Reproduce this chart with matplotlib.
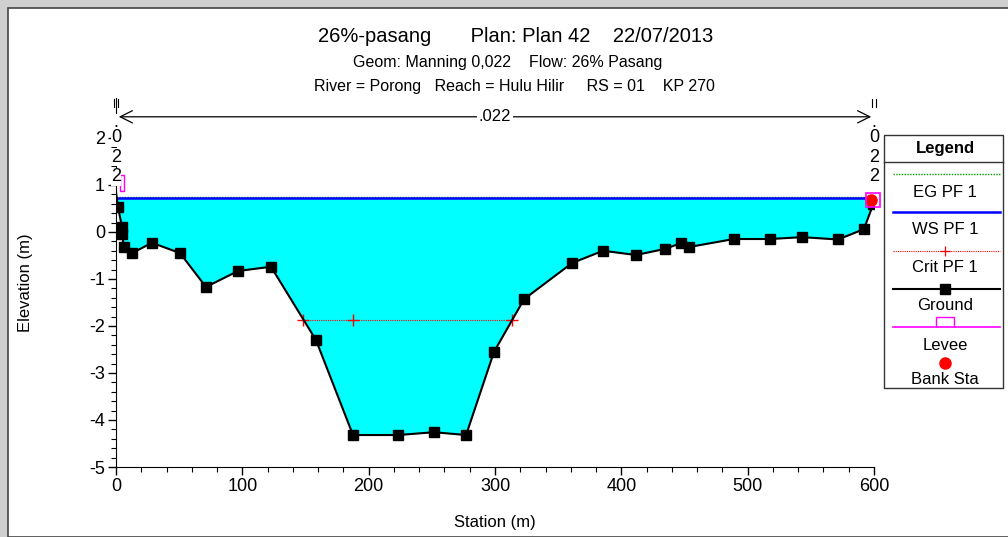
import numpy as np
import matplotlib
matplotlib.use("Agg")
import matplotlib.pyplot as plt
from matplotlib.patches import Rectangle
from matplotlib.lines import Line2D
from matplotlib.ticker import MultipleLocator, FixedLocator

plt.rcParams['font.family'] = ['Liberation Sans', 'DejaVu Sans']
plt.rcParams['axes.unicode_minus'] = False

# ground profile (station, elevation)
station = [0, 1.6, 4.7, 4.7, 6.3, 12.7, 28.5, 50.7, 71.2, 96.6, 122.7, 158.3,
           187.6, 223.3, 251.8, 277.1, 299.2, 323.0, 361.0, 385.6, 411.6,
           434.6, 447.0, 453.6, 489.0, 517.7, 543.0, 571.5, 592.0, 599.5]
ground = [0.85, 0.53, 0.11, -0.04, -0.32, -0.45, -0.23, -0.45, -1.17, -0.83,
          -0.74, -2.30, -4.32, -4.32, -4.26, -4.32, -2.55, -1.43, -0.66, -0.40,
          -0.49, -0.36, -0.24, -0.32, -0.15, -0.15, -0.11, -0.16, 0.06, 0.60]

ws_elev = 0.72
eg_elev = 0.75
crit_elev = -1.87
crit_sta = [148.0, 187.6, 313.5]
levee_sta = [4.5, 599.0]
levee_elev = [1.05, 0.69]
bank_sta = [598.0]
bank_elev = [0.69]

W, H = 1008, 537
fig = plt.figure(figsize=(W / 100, H / 100), dpi=100)
fig.patch.set_facecolor('#cfcfcf')

def fx(px):
    return px / W

def fy(py):
    return 1 - py / H

# white sheet with frame
fig.add_artist(Rectangle((fx(8), 0), 1.0, fy(8), transform=fig.transFigure,
                         facecolor='white', edgecolor='#444444', lw=1.2, zorder=0))

ax = fig.add_axes([fx(116), fy(467), fx(874) - fx(116), fy(98) - fy(467)])
ax.set_xlim(0, 600)
ax.set_ylim(-5, 2.85)
ax.patch.set_alpha(0)

st = np.array(station)
gr = np.array(ground)
xs = np.linspace(0, 600, 3000)
gi = np.interp(xs, st, gr)
ax.fill_between(xs, gi, ws_elev, where=gi < ws_elev, interpolate=True,
                color='#00ffff', lw=0, zorder=1)

ax.plot([0, 600], [eg_elev, eg_elev], color='#00a000', ls=(0, (1, 1)), lw=1, zorder=3)
ax.plot([0, 600], [ws_elev, ws_elev], color='#0000ff', lw=1.8, zorder=3)
ax.plot([crit_sta[0], crit_sta[-1]], [crit_elev, crit_elev], color='#ff0000',
        ls=(0, (1, 1)), lw=0.8, zorder=3)
ax.plot(crit_sta, [crit_elev] * len(crit_sta), ls='none', marker='+',
        color='#ff0000', ms=8, mew=1, zorder=4)
ax.plot(station, ground, color='black', lw=1.5, marker='s', ms=7, zorder=5,
        markevery=list(range(1, len(station))))

tall = [(-0.25, -1), (0.25, -1), (0.25, 1), (-0.25, 1), (-0.25, -1)]
ax.plot(levee_sta[:1], levee_elev[:1], ls='none', marker=tall, ms=11,
        mfc='none', mec='#ff00ff', mew=1, zorder=6, clip_on=False)
ax.plot(bank_sta, bank_elev, ls='none', marker='o', ms=8, color='#ff0000',
        zorder=6, clip_on=False)
ax.plot(levee_sta[1:], levee_elev[1:], ls='none', marker='s', ms=10,
        mfc='none', mec='#ff00ff', mew=1.2, zorder=7, clip_on=False)

# manning n marks
arrow_y = 2.45
ax.annotate('', xy=(0, arrow_y), xytext=(600, arrow_y),
            arrowprops=dict(arrowstyle='<->', color='black', lw=0.9,
                            mutation_scale=22))
ax.text(300, arrow_y, '.022', ha='center', va='center', fontsize=12,
        bbox=dict(facecolor='white', edgecolor='none', pad=1), zorder=8)
for sx in [0, 600]:
    for dx in [-1.2, 1.2]:
        ax.plot([sx + dx, sx + dx], [2.66, 2.82], color='black', lw=0.8,
                clip_on=False)
    for ch, cy in zip(['.', '0', '2', '2'], [2.33, 2.00, 1.59, 1.17]):
        ax.text(sx, cy, ch, ha='center', va='center', fontsize=13, zorder=8,
                bbox=dict(facecolor='white', edgecolor='none', pad=0.2))

ax.spines['top'].set_visible(False)
ax.spines['right'].set_visible(False)
ax.xaxis.set_major_locator(MultipleLocator(100))
ax.xaxis.set_minor_locator(MultipleLocator(20))
ax.set_yticks([-5, -4, -3, -2, -1, 0, 1, 2])
ax.yaxis.set_minor_locator(FixedLocator(np.round(np.arange(-5, 2.01, 0.2), 1)))
ax.tick_params(which='major', length=6, width=1, labelsize=13, pad=2)
ax.tick_params(which='minor', length=3.5, width=0.8)
ax.set_xlabel('Station (m)', fontsize=12, labelpad=14)
ax.set_ylabel('Elevation (m)', fontsize=12, labelpad=40)

fig.text(fx(516), fy(37), '26%-pasang       Plan: Plan 42    22/07/2013',
         ha='center', va='center', fontsize=14.5)
fig.text(fx(508), fy(62), 'Geom: Manning 0,022    Flow: 26% Pasang',
         ha='center', va='center', fontsize=11.5)
fig.text(fx(514), fy(87), 'River = Porong   Reach = Hulu Hilir     RS = 01    KP 270',
         ha='center', va='center', fontsize=11.5)

# legend box
lx0, lx1, ly0, ly1 = 884, 1003, 135, 388
fig.add_artist(Rectangle((fx(lx0), fy(ly1)), fx(lx1) - fx(lx0), fy(ly0) - fy(ly1),
                         transform=fig.transFigure, facecolor='white',
                         edgecolor='#333333', lw=1))
fig.add_artist(Line2D([fx(lx0), fx(lx1)], [fy(162), fy(162)], color='#333333', lw=1))
fig.text(fx(945), fy(149), 'Legend', ha='center', va='center', fontsize=12,
         fontweight='bold')

cx = 945
seg = [fx(893), fx(1000)]
fig.add_artist(Line2D(seg, [fy(174)] * 2, color='#00a000', ls=(0, (1, 1)), lw=1))
fig.text(fx(cx), fy(192), 'EG PF 1', ha='center', va='center', fontsize=12)
fig.add_artist(Line2D(seg, [fy(212)] * 2, color='#0000ff', lw=1.8))
fig.text(fx(cx), fy(230), 'WS PF 1', ha='center', va='center', fontsize=12)
fig.add_artist(Line2D(seg, [fy(251)] * 2, color='#ff0000', ls=(0, (1, 1)), lw=0.8))
fig.add_artist(Line2D([fx(cx)], [fy(251)], color='#ff0000', marker='+', ms=7, mew=0.9))
fig.text(fx(cx), fy(268), 'Crit PF 1', ha='center', va='center', fontsize=12)
fig.add_artist(Line2D(seg, [fy(289)] * 2, color='black', lw=1.5))
fig.add_artist(Line2D([fx(cx)], [fy(289)], color='black', marker='s', ms=7))
fig.text(fx(cx), fy(306), 'Ground', ha='center', va='center', fontsize=12)
fig.add_artist(Line2D(seg, [fy(327)] * 2, color='#ff00ff', lw=1.2))
fig.add_artist(Line2D([fx(cx)], [fy(321.5)], color='#ff00ff',
                      marker=[(-1, -0.5), (-1, 0.5), (1, 0.5), (1, -0.5)],
                      ms=13, mfc='none', mew=1))
fig.text(fx(cx), fy(345), 'Levee', ha='center', va='center', fontsize=12)
fig.add_artist(Line2D([fx(cx)], [fy(363)], color='#ff0000', marker='o', ms=8, ls='none'))
fig.text(fx(cx), fy(379), 'Bank Sta', ha='center', va='center', fontsize=12)

fig.savefig('out.png', dpi=100, facecolor=fig.get_facecolor())
